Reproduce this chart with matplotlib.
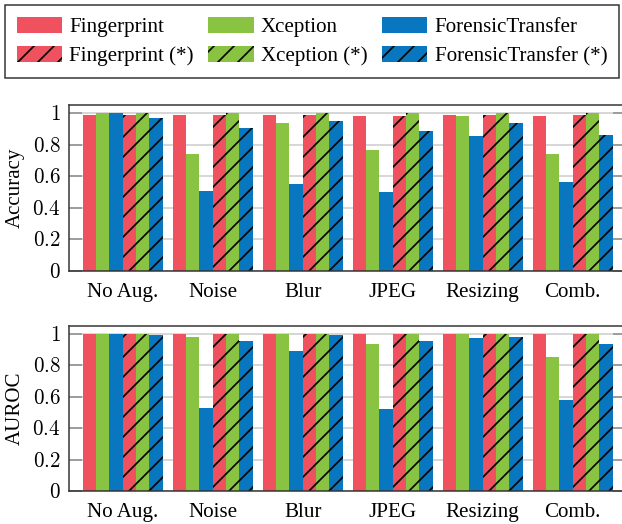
import matplotlib
matplotlib.use("Agg")
import matplotlib.pyplot as plt
from matplotlib.ticker import FuncFormatter, MultipleLocator
import numpy as np

plt.rcParams['font.family'] = ['Liberation Serif', 'DejaVu Serif']
plt.rcParams['mathtext.fontset'] = 'cm'
plt.rcParams['hatch.color'] = 'black'
plt.rcParams['hatch.linewidth'] = 1.0

# augmentation settings on the x axis
augs = ["No Aug.", "Noise", "Blur", "JPEG", "Resizing", "Comb."]

# accuracy per method
acc_fp = [0.985, 0.985, 0.985, 0.98, 0.985, 0.98]
acc_xc = [1.0, 0.738, 0.935, 0.766, 0.98, 0.738]
acc_ft = [1.0, 0.504, 0.549, 0.502, 0.857, 0.565]
acc_fp_s = [0.985, 0.985, 0.985, 0.98, 0.985, 0.985]
acc_xc_s = [1.0, 1.0, 1.0, 1.0, 1.0, 1.0]
acc_ft_s = [0.968, 0.905, 0.949, 0.884, 0.935, 0.861]

# AUROC per method
auc_fp = [1.0, 1.0, 1.0, 1.0, 1.0, 1.0]
auc_xc = [1.0, 0.979, 1.0, 0.936, 1.0, 0.852]
auc_ft = [1.0, 0.529, 0.893, 0.524, 0.975, 0.58]
auc_fp_s = [1.0, 1.0, 1.0, 1.0, 1.0, 1.0]
auc_xc_s = [1.0, 1.0, 1.0, 1.0, 1.0, 1.0]
auc_ft_s = [0.994, 0.957, 0.99, 0.957, 0.98, 0.934]

names = ["Fingerprint", "Xception", "ForensicTransfer",
         "Fingerprint (*)", "Xception (*)", "ForensicTransfer (*)"]
colors = ["#EF525E", "#88C341", "#0877BF"] * 2
hatches = [None, None, None, "//", "//", "//"]

fig = plt.figure(figsize=(622 / 120, 524 / 120), dpi=120)
ax1 = fig.add_axes([69 / 622, 253 / 524, 557.4 / 622, 166 / 524])
ax2 = fig.add_axes([69 / 622, 33 / 524, 557.4 / 622, 165 / 524])

x = np.arange(len(augs))
w = 0.1476


def fmt(v, pos):
    if abs(v) < 1e-9:
        return "$0$"
    if abs(v - 1) < 1e-9:
        return "$1$"
    return "$%.1f$" % v


def draw(ax, series, ylabel):
    bars = []
    for i, vals in enumerate(series):
        b = ax.bar(x + (i - 2.5) * w, vals, w, color=colors[i], hatch=hatches[i],
                   linewidth=0, label=names[i], zorder=2)
        bars.append(b)
    ax.set_xlim(-0.597, 5.597)
    ax.set_ylim(0, 1.05)
    ax.yaxis.set_major_locator(MultipleLocator(0.2))
    ax.yaxis.set_major_formatter(FuncFormatter(fmt))
    ax.set_xticks(x)
    ax.set_xticklabels(augs, fontsize=12.6)
    ax.tick_params(axis='x', length=0, pad=7)
    ax.tick_params(axis='y', direction='in', length=7.8, width=0.9, color='#8c8c8c',
                   labelsize=12.6, pad=5, left=True, right=True)
    ax.grid(axis='y', color='#cfcfcf', linewidth=1.0, zorder=0)
    ax.set_axisbelow(True)
    for s in ['left', 'top', 'bottom']:
        ax.spines[s].set_color('#333333')
        ax.spines[s].set_linewidth(0.9)
    ax.spines['right'].set_visible(False)
    ax.set_ylabel(ylabel, fontsize=12.6)
    ax.yaxis.set_label_coords(-0.08, 0.5)
    return bars


bars = draw(ax1, [acc_fp, acc_xc, acc_ft, acc_fp_s, acc_xc_s, acc_ft_s], "Accuracy")
draw(ax2, [auc_fp, auc_xc, auc_ft, auc_fp_s, auc_xc_s, auc_ft_s], "AUROC")

# legend laid out row by row: plain methods on top, (*) variants below
order = [0, 3, 1, 4, 2, 5]
leg = fig.legend([bars[i] for i in order], [names[i] for i in order],
                 ncol=3, loc='upper left', bbox_to_anchor=(5 / 622, 1 - 5 / 524, 614 / 622, 0),
                 mode='expand', fontsize=12.6, frameon=True, fancybox=False,
                 edgecolor='#333333', framealpha=1, handlelength=2.15, handleheight=0.8,
                 handletextpad=0.35, labelspacing=0.42, borderpad=0.55, borderaxespad=0)
leg.get_frame().set_linewidth(0.9)

fig.savefig("out.png", dpi=120)
